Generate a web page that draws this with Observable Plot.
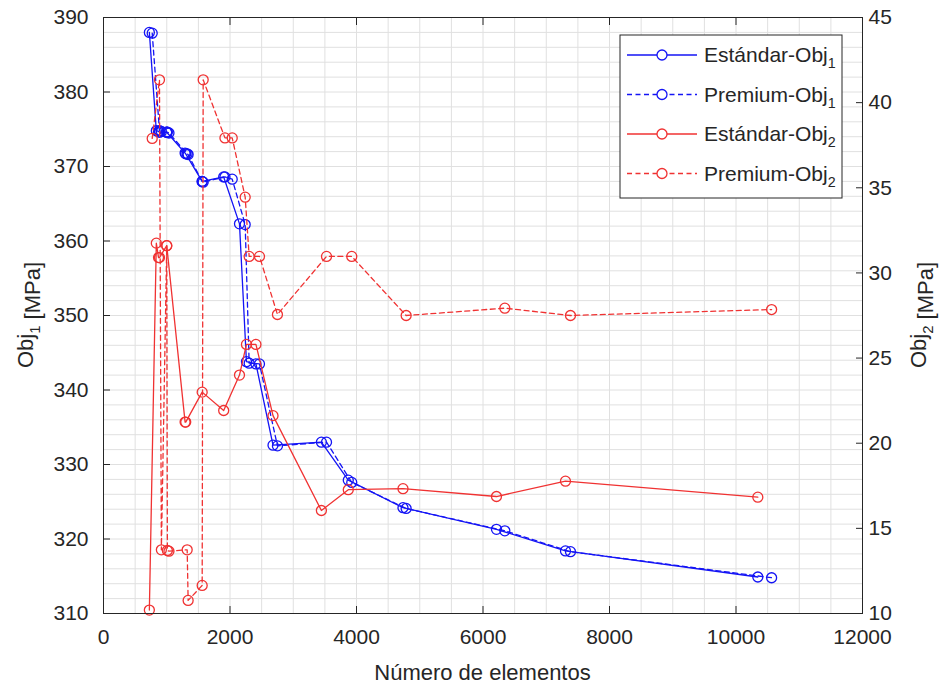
<!DOCTYPE html>
<html>
<head>
<meta charset="utf-8">
<script src="https://cdn.jsdelivr.net/npm/d3@7"></script>
<script src="https://cdn.jsdelivr.net/npm/@observablehq/plot@0.6"></script>
<style>
  body { margin: 0; background: #ffffff; }
  #chart { width: 944px; height: 688px; }
  #chart svg { font-family: "Liberation Sans", Arial, Helvetica, sans-serif; }
</style>
</head>
<body>
<div id="chart"></div>
<script>
// Estándar meshes: number of elements, Obj1 [MPa], Obj2 [MPa]
const estandarElementos = [725, 835, 870, 885, 1000, 1290, 1300, 1560, 1900, 2150, 2260, 2410, 2680, 3445, 3870, 4735, 6213, 7304, 10345];
const estandarObj1 = [388.0, 374.8, 374.7, 374.6, 374.6, 371.8, 371.7, 368.0, 368.6, 362.3, 343.8, 343.5, 332.6, 333.0, 327.9, 324.2, 321.3, 318.4, 314.9];
const estandarObj2 = [10.2, 31.75, 30.9, 30.9, 31.6, 21.24, 21.24, 23.0, 21.92, 24.0, 25.8, 25.8, 21.62, 16.05, 17.27, 17.33, 16.87, 17.77, 16.83];

// Premium meshes: number of elements, Obj1 [MPa], Obj2 [MPa]
const premiumElementos = [770, 885, 915, 1000, 1010, 1035, 1323, 1338, 1560, 1576, 1920, 2035, 2240, 2303, 2466, 2750, 3526, 3925, 4785, 6345, 7383, 10563];
const premiumObj1 = [387.9, 374.8, 374.7, 374.6, 374.6, 374.5, 371.7, 371.6, 368.0, 367.9, 368.6, 368.3, 362.2, 343.6, 343.5, 332.5, 333.0, 327.6, 324.1, 321.1, 318.3, 314.8];
const premiumObj2 = [37.9, 41.34, 13.74, 31.6, 13.7, 13.66, 13.74, 10.77, 11.65, 41.34, 37.93, 37.93, 34.45, 30.97, 30.97, 27.56, 30.97, 30.97, 27.5, 27.93, 27.5, 27.85];

// Axis ticks
const xTicks = [0, 2000, 4000, 6000, 8000, 10000, 12000];
const obj1Ticks = [310, 320, 330, 340, 350, 360, 370, 380, 390];
const obj2Ticks = [10, 15, 20, 25, 30, 35, 40, 45];

const obj1Domain = [310, 390];
const obj2Domain = [10, 45];

// The right axis (Obj2) shares the plot's y scale through a linear remap
const k = (obj1Domain[1] - obj1Domain[0]) / (obj2Domain[1] - obj2Domain[0]);
const obj2ToObj1 = v => obj1Domain[0] + (v - obj2Domain[0]) * k;
const obj1ToObj2 = v => obj2Domain[0] + (v - obj1Domain[0]) / k;

const blue = "#1414f5";
const red = "#f03232";

const series = [
  {label: "Estándar-Obj", sub: "1", color: blue, dash: null, xs: estandarElementos, ys: estandarObj1, right: false},
  {label: "Premium-Obj", sub: "1", color: blue, dash: "5,3.5", xs: premiumElementos, ys: premiumObj1, right: false},
  {label: "Estándar-Obj", sub: "2", color: red, dash: null, xs: estandarElementos, ys: estandarObj2, right: true},
  {label: "Premium-Obj", sub: "2", color: red, dash: "5,3.5", xs: premiumElementos, ys: premiumObj2, right: true}
];

const width = 944, height = 688;
const margin = {top: 17, right: 82, bottom: 75, left: 103};

const dataMarks = series.flatMap(s => {
  const rows = s.xs.map((x, i) => ({x, y: s.right ? obj2ToObj1(s.ys[i]) : s.ys[i]}));
  return [
    Plot.line(rows, {x: "x", y: "y", stroke: s.color, strokeWidth: 1.3, strokeDasharray: s.dash}),
    Plot.dot(rows, {x: "x", y: "y", r: 5, stroke: s.color, fill: "none", strokeWidth: 1.3})
  ];
});

const tickColor = "#262626";
const chart = Plot.plot({
  width, height,
  marginTop: margin.top, marginRight: margin.right, marginBottom: margin.bottom, marginLeft: margin.left,
  style: {fontSize: "21px", color: tickColor, background: "#ffffff"},
  x: {domain: [0, 12000]},
  y: {domain: obj1Domain},
  marks: [
    Plot.gridX(d3.range(0, 12001, 500), {stroke: "#e0e0e0", strokeOpacity: 1, strokeWidth: 1}),
    Plot.gridY(d3.range(310, 391, 2), {stroke: "#e0e0e0", strokeOpacity: 1, strokeWidth: 1}),
    ...dataMarks,
    Plot.frame({stroke: tickColor, strokeWidth: 1}),
    Plot.axisX(xTicks, {anchor: "bottom", tickSize: -7, tickPadding: 23, label: null, tickFormat: d => String(d)}),
    Plot.axisX(xTicks, {anchor: "top", tickSize: -7, label: null, tickFormat: () => ""}),
    Plot.axisY(obj1Ticks, {anchor: "left", tickSize: -7, tickPadding: 22, label: null, tickFormat: d => String(d)}),
    Plot.axisY(obj2Ticks.map(obj2ToObj1), {anchor: "right", tickSize: -7, tickPadding: 13, label: null,
      tickFormat: v => String(Math.round(obj1ToObj2(v)))})
  ]
});

document.getElementById("chart").appendChild(chart);

const svg = d3.select(chart);
const fontFamily = "'Liberation Sans', Arial, Helvetica, sans-serif";

// Text with a lowered subscript
function subText(sel, base, sub, size) {
  sel.attr("font-family", fontFamily).attr("font-size", size).attr("fill", tickColor);
  sel.append("tspan").text(base);
  sel.append("tspan").attr("font-size", size * 0.68).attr("dy", size * 0.3).text(sub);
  sel.append("tspan").attr("dy", -size * 0.3).text("");
  return sel;
}

// Axis titles
const plotMidY = (margin.top + height - margin.bottom) / 2;
const leftTitle = svg.append("text")
  .attr("transform", `translate(33,${plotMidY}) rotate(-90)`)
  .attr("text-anchor", "middle");
subText(leftTitle, "Obj", "1", 22);
leftTitle.append("tspan").text(" [MPa]");

const rightTitle = svg.append("text")
  .attr("transform", `translate(926,${plotMidY}) rotate(-90)`)
  .attr("text-anchor", "middle");
subText(rightTitle, "Obj", "2", 22);
rightTitle.append("tspan").text(" [MPa]");

svg.append("text")
  .attr("x", (margin.left + width - margin.right) / 2)
  .attr("y", 680)
  .attr("text-anchor", "middle")
  .attr("font-family", fontFamily)
  .attr("font-size", 22)
  .attr("fill", tickColor)
  .text("Número de elementos");

// Legend box in the upper-right corner
const legend = svg.append("g").attr("transform", "translate(620,35)");
legend.append("rect")
  .attr("width", 222).attr("height", 163)
  .attr("fill", "#ffffff").attr("stroke", tickColor).attr("stroke-width", 1);
series.forEach((s, i) => {
  const cy = 20 + i * 39.5;
  legend.append("line")
    .attr("x1", 7).attr("x2", 77).attr("y1", cy).attr("y2", cy)
    .attr("stroke", s.color).attr("stroke-width", 1.3)
    .attr("stroke-dasharray", s.dash);
  legend.append("circle")
    .attr("cx", 42).attr("cy", cy).attr("r", 5)
    .attr("fill", "#ffffff").attr("stroke", s.color).attr("stroke-width", 1.3);
  const t = legend.append("text").attr("x", 84).attr("y", cy + 7).attr("text-anchor", "start");
  subText(t, s.label, s.sub, 21);
});
</script>
</body>
</html>
